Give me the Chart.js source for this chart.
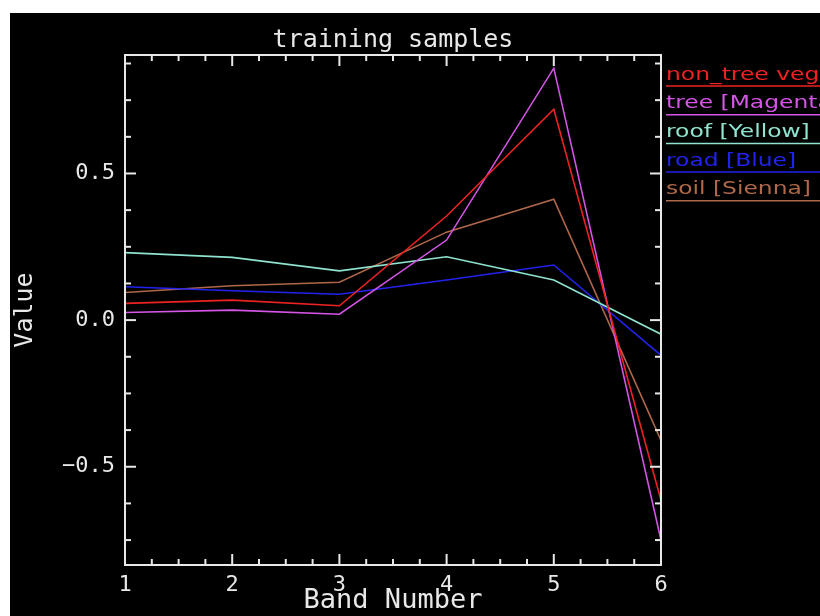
<!DOCTYPE html>
<html><head><meta charset="utf-8">
<script src="https://cdn.jsdelivr.net/npm/chart.js@4"></script>
<style>
html,body{margin:0;padding:0;background:#fff;width:820px;height:616px;overflow:hidden}
#wrap{position:absolute;left:10px;top:13px;width:810px;height:603px;background:#000}
canvas{display:block}
</style></head><body>
<div id="wrap"><canvas id="c" width="810" height="603"></canvas></div>
<script>
// ---- data ----
const bands = [1, 2, 3, 4, 5, 6];
const seriesNames = ['non_tree veg [Red]', 'tree [Magenta]', 'roof [Yellow]', 'road [Blue]', 'soil [Sienna]'];
const nonTreeVeg = [0.057, 0.068, 0.049, 0.355, 0.719, -0.614];
const tree       = [0.026, 0.034, 0.020, 0.273, 0.859, -0.750];
const roof       = [0.230, 0.214, 0.168, 0.216, 0.137, -0.048];
const road       = [0.114, 0.100, 0.088, 0.137, 0.188, -0.120];
const soil       = [0.094, 0.117, 0.129, 0.300, 0.412, -0.410];
const yTickValues = [-0.5, 0.0, 0.5];
const yRange = [-0.835, 0.904];
const xRange = [1, 6];

// ---- styles ----
const seriesColors = ['#ee2222', '#d455e6', '#8fe3cf', '#2222ee', '#b0684a'];
const fg = '#e8e8e8';
const mono = '"DejaVu Sans Mono", monospace';

const seriesValues = [nonTreeVeg, tree, roof, road, soil];

const framePlugin = {
  id: 'frame',
  afterDraw(chart) {
    const {ctx, chartArea: {left, right, top, bottom}, scales: {x, y}} = chart;
    ctx.save();
    ctx.strokeStyle = fg;
    ctx.lineWidth = 2;
    ctx.strokeRect(left, top, right - left, bottom - top);
    const seg = (a, b, c, d) => { ctx.beginPath(); ctx.moveTo(a, b); ctx.lineTo(c, d); ctx.stroke(); };
    const xt = x.ticks.map(t => t.value);
    const xStep = xt[1] - xt[0];
    for (let k = 0; xRange[0] + k * xStep / 4 <= xRange[1] + 1e-9; k++) {
      const v = xRange[0] + k * xStep / 4;
      const px = x.getPixelForValue(v);
      const len = (k % 4 === 0) ? 11 : 6;
      seg(px, bottom, px, bottom - len);
      seg(px, top, px, top + len);
    }
    const yStep = yTickValues[1] - yTickValues[0];
    const minor = yStep / 4;
    for (let k = Math.ceil(y.min / minor); k * minor <= y.max + 1e-9; k++) {
      const py = y.getPixelForValue(k * minor);
      const len = (k % 4 === 0) ? 11 : 6;
      seg(left, py, left + len, py);
      seg(right, py, right - len, py);
    }
    ctx.restore();
  }
};

const legendPlugin = {
  id: 'idlLegend',
  afterDraw(chart) {
    const {ctx} = chart;
    chart.data.datasets.forEach((ds, i) => {
      const yy = 62 + i * 28.7;
      ctx.save();
      ctx.translate(656, yy);
      ctx.scale(1.3, 1);
      ctx.font = '18px "DejaVu Sans", sans-serif';
      ctx.textBaseline = 'middle';
      ctx.textAlign = 'left';
      ctx.fillStyle = ds.borderColor;
      ctx.fillText(ds.label, 0, 0);
      ctx.restore();
      ctx.save();
      ctx.strokeStyle = ds.borderColor;
      ctx.lineWidth = 1.5;
      ctx.beginPath(); ctx.moveTo(656, yy + 11); ctx.lineTo(810, yy + 11); ctx.stroke();
      ctx.restore();
    });
  }
};

new Chart(document.getElementById('c'), {
  type: 'line',
  data: {
    datasets: seriesNames.map((name, i) => ({
      label: name,
      data: bands.map((b, j) => ({x: b, y: seriesValues[i][j]})),
      borderColor: seriesColors[i],
      backgroundColor: seriesColors[i],
      borderWidth: 1.6,
      pointRadius: 0,
      tension: 0,
      fill: false
    }))
  },
  options: {
    responsive: false,
    animation: false,
    layout: {padding: {top: 0, left: 0, right: 159, bottom: 0}},
    plugins: {
      legend: {display: false},
      tooltip: {enabled: false},
      title: {
        display: true, text: 'training samples', color: fg, fullSize: false,
        font: {family: mono, size: 25, weight: 'normal', lineHeight: 1.2},
        padding: {top: 12, bottom: 0}
      }
    },
    scales: {
      x: {
        type: 'linear', min: xRange[0], max: xRange[1],
        afterFit: s => { s.height = 51; },
        afterBuildTicks: s => { s.ticks = bands.map(v => ({value: v})); },
        grid: {display: false, drawTicks: false},
        border: {display: false},
        ticks: {color: fg, font: {family: mono, size: 22}, padding: 7, maxRotation: 0, autoSkip: false,
          callback: v => String(v)},
        title: {display: true, text: 'Band Number', color: fg,
          font: {family: mono, size: 27, lineHeight: 1.1}, padding: {top: 0, bottom: 0}}
      },
      y: {
        type: 'linear', min: yRange[0], max: yRange[1],
        afterFit: s => { s.width = 115; },
        afterBuildTicks: s => { s.ticks = yTickValues.map(v => ({value: v})); },
        grid: {display: false, drawTicks: false},
        border: {display: false},
        ticks: {color: fg, font: {family: mono, size: 22}, padding: 10,
          callback: v => (v < 0 ? '\u2212' : '') + Math.abs(v).toFixed(1)},
        title: {display: true, text: 'Value', color: fg,
          font: {family: mono, size: 25, lineHeight: 1.2}, padding: {top: 0, bottom: 0}}
      }
    }
  },
  plugins: [framePlugin, legendPlugin]
});
</script>
</body></html>
